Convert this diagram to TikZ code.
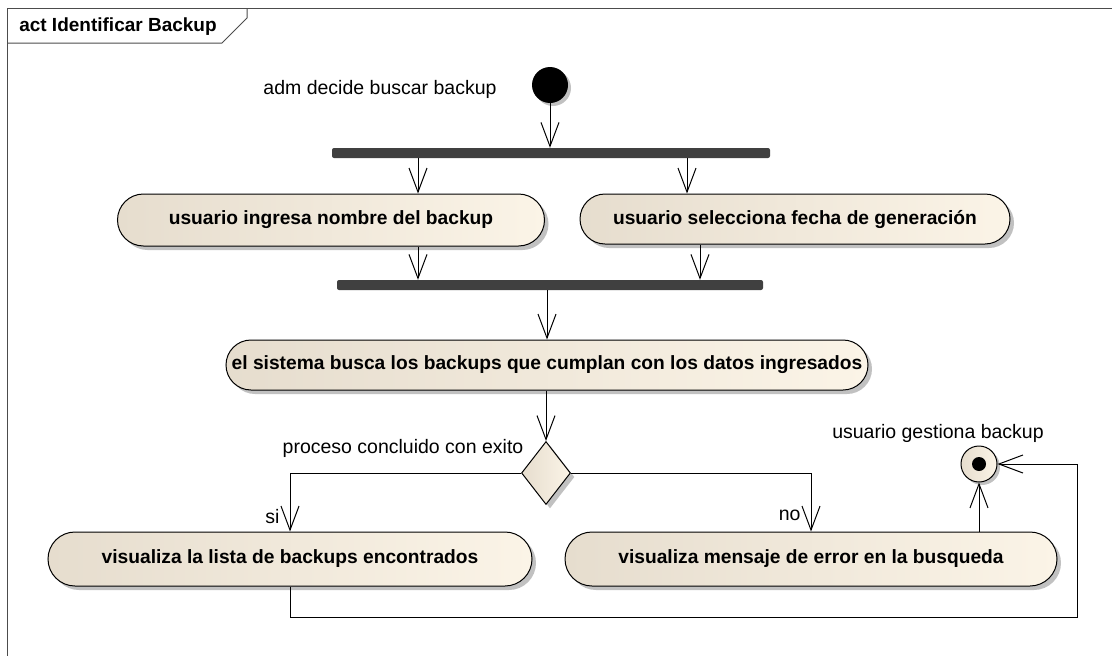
\documentclass[tikz,border=0pt]{standalone}
\usepackage{fontspec}
\setmainfont{Liberation Sans}
\usetikzlibrary{shapes.misc, shapes.geometric, arrows.meta, positioning, calc, shadows}

\definecolor{actleft}{RGB}{230,221,206}
\definecolor{actright}{RGB}{251,244,231}
\definecolor{barfill}{RGB}{64,64,64}

\begin{document}
\begin{tikzpicture}[
        x=1pt, y=-1pt,
        action/.style={rounded rectangle, draw=black, line width=1pt, left color=actleft, right color=actright,
            font=\fontsize{19.2}{22}\selectfont\bfseries, inner sep=0pt,
            drop shadow={shadow xshift=4pt, shadow yshift=-4pt, fill=black!30, opacity=0.8}},
        syncbar/.style={rectangle, fill=barfill, rounded corners=2pt, minimum height=10pt, inner sep=0pt},
        flow/.style={-{Straight Barb[length=24pt, width=18pt]}, line width=1pt, draw=black},
        lbl/.style={font=\fontsize{19.5}{22}\selectfont, inner sep=0pt}
    ]
        \useasboundingbox (0,0) rectangle (1112,656);

        % ----------------------------------------------------
        % FRAME
        % ----------------------------------------------------
        \draw[line width=1pt, black!70] (7,656) -- (7,8) -- (1112,8);
        \draw[line width=1pt, black!70] (7,43) -- (222,43) -- (247,18) -- (247,8);
        \node[lbl, font=\fontsize{19}{22}\selectfont\bfseries] (title) at (118,27) {act Identificar Backup};

        % ----------------------------------------------------
        % NODES
        % ----------------------------------------------------
        \node[circle, fill=black, minimum size=36pt, inner sep=0pt,
            drop shadow={shadow xshift=3pt, shadow yshift=-3pt, fill=black!30, opacity=0.8}] (start) at (550,85) {};
        \node[lbl] (startlbl) at (380,89) {adm decide buscar backup};

        \node[syncbar, minimum width=438pt] (fork) at (551,153) {};

        \node[action, minimum width=427pt, minimum height=52pt] (nombre) at (331,220) {usuario ingresa nombre del backup};
        \node[action, minimum width=430pt, minimum height=50pt] (fecha) at (795,219) {usuario selecciona fecha de generación};

        \node[syncbar, minimum width=426pt] (join) at (550,285) {};

        \node[action, minimum width=642pt, minimum height=50pt] (busca) at (547,365) {el sistema busca los backups que cumplan con los datos ingresados};

        \node[diamond, draw=black, line width=1pt, left color=actleft, right color=actright,
            minimum width=49pt, minimum height=63pt, inner sep=0pt,
            drop shadow={shadow xshift=4pt, shadow yshift=-4pt, fill=black!30, opacity=0.8}] (exito) at (546,473) {};
        \node[lbl] (exitolbl) at (403,448) {proceso concluido con exito};

        \node[action, minimum width=484pt, minimum height=54pt] (lista) at (290,559) {visualiza la lista de backups encontrados};
        \node[action, minimum width=492pt, minimum height=54pt] (error) at (811,559) {visualiza mensaje de error en la busqueda};

        \node[circle, draw=black, line width=1pt, left color=actleft, right color=actright, minimum size=36pt, inner sep=0pt,
            drop shadow={shadow xshift=3pt, shadow yshift=-3pt, fill=black!30, opacity=0.8}] (fin) at (979,464) {};
        \fill[black] (fin.center) circle (7pt);
        \node[lbl] (finlbl) at (938,433) {usuario gestiona backup};

        \coordinate (loop) at (1077,464);

        % ----------------------------------------------------
        % FLOWS
        % ----------------------------------------------------
        \draw[flow] (start.south) -- (start.south |- fork.north);
        \draw[flow] ([xshift=87pt]nombre.north |- fork.south) -- ([xshift=87pt]nombre.north);
        \draw[flow] ([xshift=-108pt]fecha.north |- fork.south) -- ([xshift=-108pt]fecha.north);
        \draw[flow] ([xshift=87pt]nombre.south) -- ([xshift=87pt]nombre.south |- join.north);
        \draw[flow] ([xshift=-95pt]fecha.south) -- ([xshift=-95pt]fecha.south |- join.north);
        \draw[flow] (busca.north |- join.south) -- (busca.north);
        \draw[flow] (exito.north |- busca.south) -- (exito.north);
        \draw[flow] (exito.west) -| (lista.north) node[lbl, pos=0.93, left=10pt, yshift=7pt] {si};
        \draw[flow] (exito.east) -| (error.north) node[lbl, pos=0.93, left=10pt, yshift=8pt] {no};
        \draw[flow] (fin.south |- error.north) -- (fin.south);
        \draw[flow] (lista.south) -- (lista.south |- 0,617) -| (loop) -- (fin.east);

    \end{tikzpicture}
\end{document}
